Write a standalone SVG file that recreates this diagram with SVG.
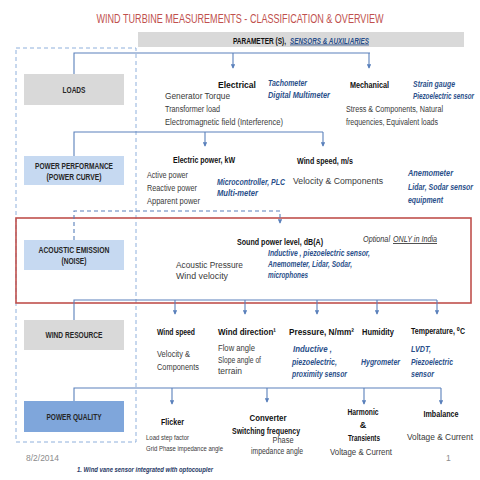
<svg xmlns="http://www.w3.org/2000/svg" width="480" height="480" viewBox="0 0 480 480">
<defs>
<style>
text{font-family:"Liberation Sans",Arial,"DejaVu Sans",sans-serif;}
.title{font-size:12.5px;fill:#c0504d;text-anchor:middle;}
.lbl{font-size:9px;font-weight:bold;fill:#262626;text-anchor:middle;}
.h{font-size:9px;font-weight:bold;fill:#111;}
.hm{font-size:9px;font-weight:bold;fill:#111;text-anchor:middle;}
.t{font-size:8.5px;fill:#3a3a3a;}
.tm{font-size:8.5px;fill:#3a3a3a;text-anchor:middle;}
.ts{font-size:7.5px;fill:#3a3a3a;}
.s{font-size:8.5px;font-style:italic;font-weight:bold;fill:#2a4f8a;}
.g{font-size:8.5px;fill:#8c8c8c;}
.con{fill:none;stroke:#5a80bb;stroke-width:1.1;}
.arr{fill:none;stroke:#5a80bb;stroke-width:1.1;marker-end:url(#ah);}
</style>
<marker id="ah" viewBox="0 0 6 6" refX="5" refY="3" markerWidth="4" markerHeight="4" orient="auto">
<path d="M0,0 L6,3 L0,6 Z" fill="#5a80bb"/>
</marker>
</defs>
<rect width="480" height="480" fill="#fff"/>
<text class="title" x="240" y="22.5" textLength="287" lengthAdjust="spacingAndGlyphs">WIND TURBINE MEASUREMENTS -  CLASSIFICATION &amp; OVERVIEW</text>
<g id="header">
<rect x="138" y="32" width="326" height="15" fill="#d9d9d9"/>
<text x="233" y="43.5" font-size="8.5" font-weight="bold" fill="#111" textLength="53" lengthAdjust="spacingAndGlyphs">PARAMETER (S),</text>
<text x="290" y="43.5" font-size="8.5" font-weight="bold" font-style="italic" fill="#2a4f8a" text-decoration="underline" textLength="79" lengthAdjust="spacingAndGlyphs">SENSORS &amp; AUXILIARIES</text>
</g>
<rect id="dashed-frame" x="16" y="48" width="120" height="394" fill="none" stroke="#8fb0dc" stroke-width="1" stroke-dasharray="4,3"/>
<rect id="acoustic-frame" x="16" y="218" width="455" height="85" fill="none" stroke="#c0504d" stroke-width="1.6"/>
<g id="connectors">
<path class="con" d="M74,74 V53 H370"/>
<path class="arr" d="M233,53 V68"/>
<path class="arr" d="M369,53 V68"/>
<path class="con" d="M74,156 V132 H323"/>
<path class="arr" d="M205,132 V146"/>
<path class="arr" d="M323,132 V146"/>
<path class="arr" d="M74,240 V211 H280 V223" stroke-dasharray="4,3"/>
<path class="con" d="M74,320 V300 H437"/>
<path class="arr" d="M175,300 V314"/>
<path class="arr" d="M245,300 V314"/>
<path class="arr" d="M317,300 V314"/>
<path class="arr" d="M377,300 V314"/>
<path class="arr" d="M437,300 V314"/>
<path class="con" d="M74,401 V388 H441"/>
<path class="arr" d="M172,388 V404"/>
<path class="arr" d="M267,388 V402"/>
<path class="arr" d="M364,388 V404"/>
<path class="arr" d="M441,388 V404"/>
</g>
<g id="loads">
<rect x="24" y="74" width="100" height="31" fill="#d9d9d9"/>
<text class="lbl" x="74" y="92.5" textLength="23" lengthAdjust="spacingAndGlyphs">LOADS</text>
</g>
<g id="power-performance">
<rect x="24" y="156" width="100" height="29" fill="#c6d9f1"/>
<text class="lbl" x="74" y="168.5" textLength="78" lengthAdjust="spacingAndGlyphs">POWER PERFORMANCE</text>
<text class="lbl" x="74" y="180" textLength="55" lengthAdjust="spacingAndGlyphs">(POWER CURVE)</text>
</g>
<g id="acoustic-emission">
<rect x="24" y="240" width="100" height="30" fill="#c6d9f1"/>
<text class="lbl" x="74" y="252.5" textLength="71" lengthAdjust="spacingAndGlyphs">ACOUSTIC EMISSION</text>
<text class="lbl" x="74" y="264" textLength="25" lengthAdjust="spacingAndGlyphs">(NOISE)</text>
</g>
<g id="wind-resource">
<rect x="24" y="320" width="100" height="30" fill="#d9d9d9"/>
<text class="lbl" x="74" y="338" textLength="57" lengthAdjust="spacingAndGlyphs">WIND RESOURCE</text>
</g>
<g id="power-quality">
<rect x="24" y="401" width="100" height="31" fill="#7fa6db"/>
<text class="lbl" x="74" y="419.5" textLength="55" lengthAdjust="spacingAndGlyphs">POWER QUALITY</text>
</g>
<g id="electrical">
<text class="h" x="218" y="88" textLength="38" lengthAdjust="spacingAndGlyphs">Electrical</text>
<text class="t" x="165" y="98.5" textLength="65" lengthAdjust="spacingAndGlyphs">Generator Torque</text>
<text class="t" x="165" y="112" textLength="55" lengthAdjust="spacingAndGlyphs">Transformer load</text>
<text class="t" x="165" y="125" textLength="118" lengthAdjust="spacingAndGlyphs">Electromagnetic field (Interference)</text>
<text class="s" x="268" y="86" textLength="39" lengthAdjust="spacingAndGlyphs">Tachometer</text>
<text class="s" x="268" y="98" textLength="62" lengthAdjust="spacingAndGlyphs">Digital Multimeter</text>
</g>
<g id="mechanical">
<text class="h" x="350" y="88" textLength="39" lengthAdjust="spacingAndGlyphs">Mechanical</text>
<text class="s" x="413" y="87" textLength="42" lengthAdjust="spacingAndGlyphs">Strain gauge</text>
<text class="s" x="413" y="99" font-size="8" textLength="61" lengthAdjust="spacingAndGlyphs">Piezoelectric sensor</text>
<text class="t" x="346" y="112" textLength="97" lengthAdjust="spacingAndGlyphs">Stress &amp; Components, Natural</text>
<text class="t" x="346" y="125" textLength="92" lengthAdjust="spacingAndGlyphs">frequencies, Equivalent loads</text>
</g>
<g id="electric-power">
<text class="h" x="173" y="163" textLength="62" lengthAdjust="spacingAndGlyphs">Electric power, kW</text>
<text class="t" x="147" y="178" textLength="41" lengthAdjust="spacingAndGlyphs">Active power</text>
<text class="t" x="147" y="191" textLength="50" lengthAdjust="spacingAndGlyphs">Reactive  power</text>
<text class="t" x="147" y="204" textLength="53" lengthAdjust="spacingAndGlyphs">Apparent  power</text>
<text class="s" x="217" y="185" textLength="68" lengthAdjust="spacingAndGlyphs">Microcontroller, PLC</text>
<text class="s" x="217" y="196" textLength="41" lengthAdjust="spacingAndGlyphs">Multi-meter</text>
</g>
<g id="wind-speed-pp">
<text class="h" x="297" y="164" textLength="56" lengthAdjust="spacingAndGlyphs">Wind speed, m/s</text>
<text class="t" x="293" y="184" textLength="90" lengthAdjust="spacingAndGlyphs">Velocity &amp; Components</text>
<text class="s" x="408" y="176" textLength="45" lengthAdjust="spacingAndGlyphs">Anemometer</text>
<text class="s" x="408" y="190" font-size="8" textLength="65" lengthAdjust="spacingAndGlyphs">Lidar, Sodar sensor</text>
<text class="s" x="408" y="203" textLength="35" lengthAdjust="spacingAndGlyphs">equipment</text>
</g>
<g id="sound-power">
<text class="h" x="237" y="245" textLength="86" lengthAdjust="spacingAndGlyphs">Sound power level, dB(A)</text>
<text x="363" y="242" font-size="8.5" font-style="italic" fill="#333" textLength="27" lengthAdjust="spacingAndGlyphs">Optional</text>
<text x="393" y="242" font-size="8.5" font-style="italic" fill="#333" text-decoration="underline" textLength="44" lengthAdjust="spacingAndGlyphs">ONLY in India</text>
<text class="t" x="176" y="268" textLength="67" lengthAdjust="spacingAndGlyphs">Acoustic Pressure</text>
<text class="t" x="176" y="279" textLength="52" lengthAdjust="spacingAndGlyphs">Wind velocity</text>
<text class="s" x="268" y="256" textLength="102" lengthAdjust="spacingAndGlyphs">Inductive , piezoelectric sensor,</text>
<text class="s" x="268" y="267" textLength="84" lengthAdjust="spacingAndGlyphs">Anemometer, Lidar, Sodar,</text>
<text class="s" x="268" y="278" textLength="40" lengthAdjust="spacingAndGlyphs">microphones</text>
</g>
<g id="wind-speed">
<text class="h" x="157" y="335" textLength="38" lengthAdjust="spacingAndGlyphs">Wind speed</text>
<text class="t" x="157" y="357" textLength="33" lengthAdjust="spacingAndGlyphs">Velocity &amp;</text>
<text class="t" x="157" y="370" textLength="42" lengthAdjust="spacingAndGlyphs">Components</text>
</g>
<g id="wind-direction">
<text class="h" x="218" y="335" textLength="58" lengthAdjust="spacingAndGlyphs">Wind direction¹</text>
<text class="t" x="218" y="351" textLength="37" lengthAdjust="spacingAndGlyphs">Flow angle</text>
<text class="t" x="218" y="363" textLength="43" lengthAdjust="spacingAndGlyphs">Slope angle of</text>
<text class="t" x="218" y="374" textLength="24" lengthAdjust="spacingAndGlyphs">terrain</text>
</g>
<g id="pressure">
<text class="h" x="289" y="335" textLength="65" lengthAdjust="spacingAndGlyphs">Pressure, N/mm²</text>
<text class="s" x="293" y="352" textLength="39" lengthAdjust="spacingAndGlyphs">Inductive ,</text>
<text class="s" x="292" y="365" textLength="45" lengthAdjust="spacingAndGlyphs">piezoelectric,</text>
<text class="s" x="292" y="377" textLength="55" lengthAdjust="spacingAndGlyphs">proximity sensor</text>
</g>
<g id="humidity">
<text class="h" x="362" y="335" textLength="32" lengthAdjust="spacingAndGlyphs">Humidity</text>
<text class="s" x="361" y="365" textLength="39" lengthAdjust="spacingAndGlyphs">Hygrometer</text>
</g>
<g id="temperature">
<text class="h" x="411" y="334" textLength="54" lengthAdjust="spacingAndGlyphs">Temperature, ⁰C</text>
<text class="s" x="411" y="352" textLength="20" lengthAdjust="spacingAndGlyphs">LVDT,</text>
<text class="s" x="411" y="365" textLength="42" lengthAdjust="spacingAndGlyphs">Piezoelectric</text>
<text class="s" x="411" y="377" textLength="23" lengthAdjust="spacingAndGlyphs">sensor</text>
</g>
<g id="flicker">
<text class="h" x="161" y="425" font-size="9.5" textLength="23" lengthAdjust="spacingAndGlyphs">Flicker</text>
<text class="ts" x="146" y="440" textLength="43" lengthAdjust="spacingAndGlyphs">Load step factor</text>
<text class="ts" x="146" y="450.5" textLength="77" lengthAdjust="spacingAndGlyphs">Grid Phase impedance angle</text>
</g>
<g id="converter">
<text class="hm" x="268" y="421" textLength="37" lengthAdjust="spacingAndGlyphs">Converter</text>
<text class="hm" x="266" y="434" textLength="68" lengthAdjust="spacingAndGlyphs">Switching frequency</text>
<text class="tm" x="283" y="442.5" textLength="21" lengthAdjust="spacingAndGlyphs">Phase</text>
<text class="tm" x="277" y="454" textLength="52" lengthAdjust="spacingAndGlyphs">impedance angle</text>
</g>
<g id="harmonic">
<text class="hm" x="363" y="415" textLength="31" lengthAdjust="spacingAndGlyphs">Harmonic</text>
<text class="hm" x="363" y="427.5">&amp;</text>
<text class="hm" x="364" y="440.5" textLength="32" lengthAdjust="spacingAndGlyphs">Transients</text>
<text class="tm" x="361" y="455" textLength="62" lengthAdjust="spacingAndGlyphs">Voltage &amp; Current</text>
</g>
<g id="imbalance">
<text class="hm" x="441" y="417" textLength="35" lengthAdjust="spacingAndGlyphs">Imbalance</text>
<text class="tm" x="440" y="440" textLength="66" lengthAdjust="spacingAndGlyphs">Voltage &amp; Current</text>
</g>
<text class="g" x="26" y="461" textLength="33" lengthAdjust="spacingAndGlyphs">8/2/2014</text>
<text class="g" x="446" y="461">1</text>
<text x="77" y="472" font-size="7" font-style="italic" font-weight="bold" fill="#1f3864" textLength="136" lengthAdjust="spacingAndGlyphs">1.  Wind vane sensor integrated with optocoupler</text>
</svg>
